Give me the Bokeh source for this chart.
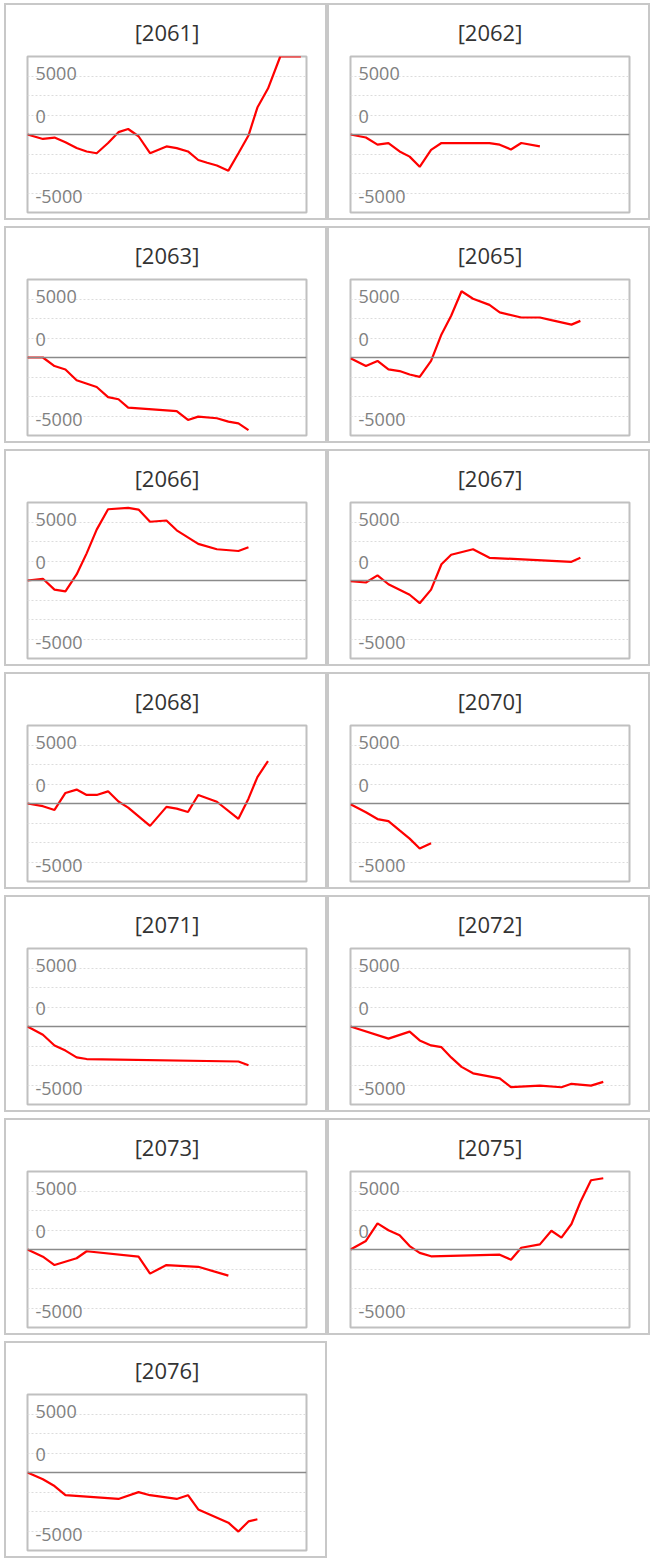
import numpy as np
from bokeh.plotting import figure
from bokeh.layouts import row, column
from bokeh.models import Range1d, FixedTicker, Span
from bokeh.core.properties import value
from bokeh.embed import file_html
from bokeh.resources import INLINE

N = None
# shared trading-day positions (x)
days = [0, 1.38, 2.42, 3.4, 4.4, 5.3, 6.2, 7.22, 8.15, 9.02, 9.95, 10.98, 12.45,
        13.37, 14.38, 15.3, 16.1, 16.97, 18.0, 18.9, 19.8, 20.6, 21.55, 22.65, 24.5]

codes = ["2061", "2062", "2063", "2065", "2066", "2067", "2068",
         "2070", "2071", "2072", "2073", "2075", "2076"]

s2061 = [0, -380, -260, -670, -1160, -1450, -1600, -730, 200, 470, -150, -1600, -1020,
         -1160, -1450, -2180, -2420, -2650, -3090, -1600, -90, 2300, 3930, 6900, 8500]
s2062 = [0, -260, -870, -730, -1450, -1890, -2760, -1310, -730, N, N, N, -730,
         -870, -1280, -730, N, -1020, N, N, N, N, N, N, N]
s2063 = [0, 0, -730, -1020, -1940, N, -2520, -3390, -3570, -4290, N, N, N,
         -4580, -5340, -5050, N, -5190, -5480, -5630, -6210, N, N, N, N]
s2065 = [-60, -730, -290, -1020, -1160, -1450, -1650, -290, 1970, 3570, 5660, 5020, 4500,
         3860, N, 3420, N, 3420, 3190, N, 2810, 3130, N, N, N]
s2066 = [0, 150, -780, -930, 520, 2320, 4350, 6090, N, 6210, 6060, 5020, 5130,
         4290, N, 3130, N, 2670, N, 2520, 2840, N, N, N, N]
s2067 = [-60, -170, 440, -320, N, -1220, -1940, -780, 1390, 2200, N, 2670, 1940,
         N, N, N, N, N, N, N, 1600, 1940, N, N, N]
s2068 = [0, -230, -550, 900, 1190, 730, 730, 1040, 170, -350, N, -1910, -290,
         -440, -730, 730, N, 150, N, -1310, 410, 2260, 3630, N, N]
s2070 = [-60, -750, -1330, -1500, -2300, -3000, -3850, -3400, N, N, N, N, N,
         N, N, N, N, N, N, N, N, N, N, N, N]
s2071 = [0, -700, -1620, -2060, -2640, -2780, N, N, N, N, N, N, N,
         N, N, N, N, N, N, -2990, -3310, N, N, N, N]
s2072 = [0, N, N, -1040, N, -440, -1190, -1620, -1770, -2640, -3450, -4000, N,
         -4440, -5190, N, N, -5050, N, -5190, -4900, N, -5050, -4730, N]
s2073 = [0, -610, -1330, N, -750, -150, N, N, N, N, -610, -2060, -1330,
         N, N, -1480, N, N, -2230, N, N, N, N, N, N]
s2075 = [0, 730, 2230, 1650, 1220, 290, -290, -580, N, N, N, N, N,
         -440, -870, 150, N, 440, 1600, 1020, 2180, 4060, 5920, 6090, N]
s2076 = [0, -580, -1160, -1940, N, N, N, N, -2260, N, -1680, -1940, N,
         -2260, -1940, -3160, N, N, -4290, -5050, -4180, -4000, N, N, N]

series = [s2061, s2062, s2063, s2065, s2066, s2067, s2068,
          s2070, s2071, s2072, s2073, s2075, s2076]

tick_labels = ["5000", "0", "-5000"]
tick_label_y = [5200, 1500, -5290]

YSTEP = 5000 / 3
YMAX = 4 * YSTEP
FONT = "Open Sans"
W, H = 323, 217


def make_panel(code, vals):
    p = figure(width=W, height=H, x_range=Range1d(0, 25), y_range=Range1d(-YMAX, YMAX),
               output_backend="svg", toolbar_location=None,
               min_border_left=21, min_border_right=23, min_border_top=50, min_border_bottom=10,
               title="[" + code + "]")
    p.styles = {"border": "2px solid #c8c8c8", "box-sizing": "border-box"}
    p.axis.visible = False
    p.xgrid.visible = False
    p.ygrid.ticker = FixedTicker(ticks=[k * YSTEP for k in range(-3, 4) if k != 0])
    p.ygrid.grid_line_color = "#dcdcdc"
    p.ygrid.grid_line_dash = "2 2"
    p.ygrid.grid_line_width = 1
    p.outline_line_color = "#c0c0c0"
    p.outline_line_width = 2
    p.background_fill_color = "white"
    p.border_fill_color = "white"
    p.title.align = "center"
    p.title.text_font = FONT
    p.title.text_font_size = "22px"
    p.title.text_font_style = "normal"
    p.title.text_color = "#333333"
    p.title.standoff = 19
    p.add_layout(Span(location=0, dimension="width", line_color="#8a8a8a", line_width=1.6))
    xs = [d for d, v in zip(days, vals) if v is not None]
    ys = np.clip([v for v in vals if v is not None], -YMAX, YMAX)
    p.line(xs, ys, line_color="#ff0000", line_width=2.2)
    p.text(x=[0] * len(tick_labels), y=tick_label_y, text=tick_labels, x_offset=8,
           text_baseline="middle", text_align="left", text_font=value(FONT),
           text_font_size="18px", text_color="#808080")
    return p


panels = [make_panel(c, s) for c, s in zip(codes, series)]
rows = []
for i in range(0, len(panels), 2):
    rows.append(row(panels[i:i + 2], spacing=0))
layout = column(rows, spacing=6, margin=(3, 0, 0, 4))

open("out.html", "w").write(file_html(layout, INLINE))
